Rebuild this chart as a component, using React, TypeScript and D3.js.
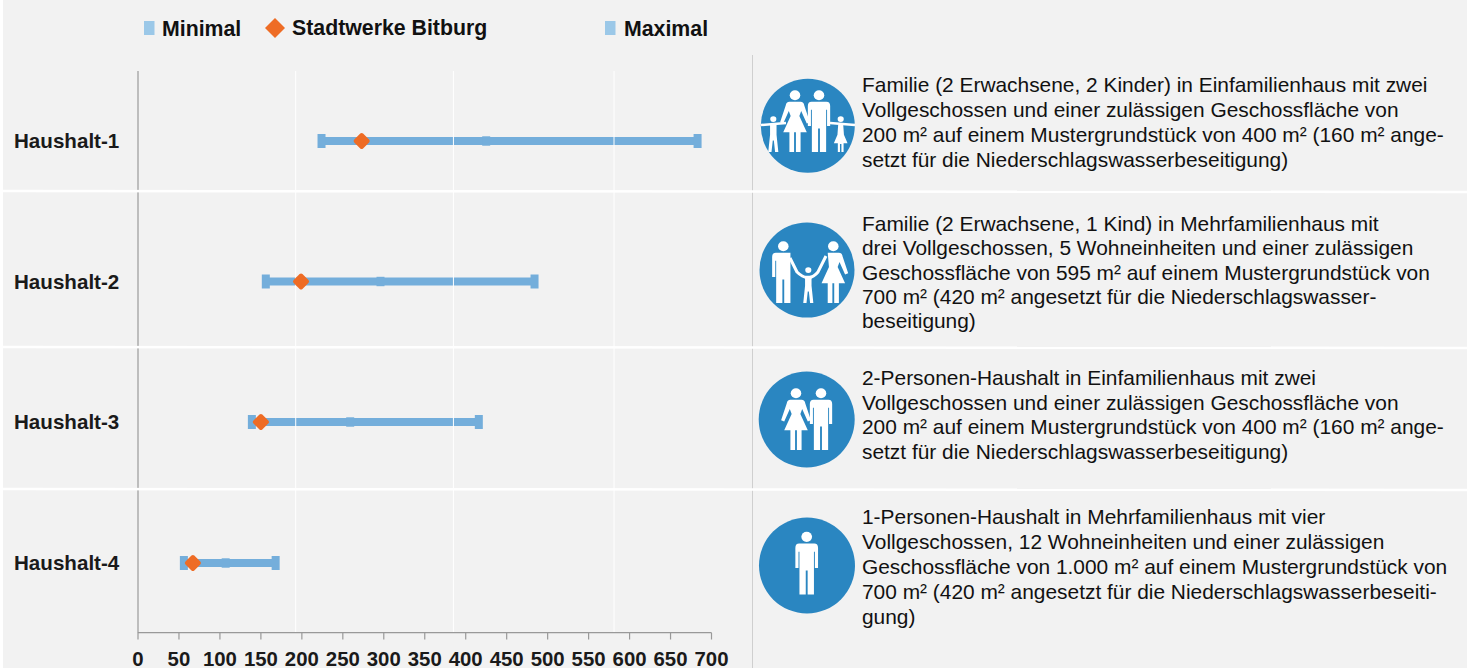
import React from "react";
import * as d3 from "d3";

const categories = ["Haushalt-1", "Haushalt-2", "Haushalt-3", "Haushalt-4"];
const minValues = [224, 156, 139, 56];
const midValues = [425, 296, 259, 107];
const bitburgValues = [273, 199, 150, 67];
const maxValues = [683, 484, 416, 168];
const tickValues = d3.range(0, 701, 50);
const gridValues = [192.5, 385, 581];
const legendItems = ["Minimal", "Stadtwerke Bitburg", "Maximal"];

const descriptions = [
  ["Familie (2 Erwachsene, 2 Kinder) in Einfamilienhaus mit zwei", "Vollgeschossen und einer zulässigen Geschossfläche von", "200 m² auf einem Mustergrundstück von 400 m² (160 m² ange-", "setzt für die Niederschlagswasserbeseitigung)"],
  ["Familie (2 Erwachsene, 1 Kind) in Mehrfamilienhaus mit", "drei Vollgeschossen, 5 Wohneinheiten und einer zulässigen", "Geschossfläche von 595 m² auf einem Mustergrundstück von", "700 m² (420 m² angesetzt für die Niederschlagswasser-", "beseitigung)"],
  ["2-Personen-Haushalt in Einfamilienhaus mit zwei", "Vollgeschossen und einer zulässigen Geschossfläche von", "200 m² auf einem Mustergrundstück von 400 m² (160 m² ange-", "setzt für die Niederschlagswasserbeseitigung)"],
  ["1-Personen-Haushalt in Mehrfamilienhaus mit vier", "Vollgeschossen, 12 Wohneinheiten und einer zulässigen", "Geschossfläche von 1.000 m² auf einem Mustergrundstück von", "700 m² (420 m² angesetzt für die Niederschlagswasserbeseiti-", "gung)"],
];
const descriptionTops = [92, 231, 385, 524];
const descriptionSteps = [25, 24.3, 24.7, 25];

const W = 1467, H = 668;
const x = d3.scaleLinear().domain([0, 700]).range([138, 711.5]);
const y = d3.scaleOrdinal<string, number>().domain(categories).range([141, 281.5, 422, 563]);
const rowLines = [191, 347, 489];
const BG = "#f2f2f2", BAR = "#74aedb", LEG = "#9bc8e8", ORANGE = "#ee6c25", AXIS = "#999999", ICON = "#2a86c1";
const SANS = "'Liberation Sans', Arial, sans-serif";

const diamond = (cx: number, cy: number, rx: number, ry: number) =>
  `M${cx},${cy - ry}L${cx + rx},${cy}L${cx},${cy + ry}L${cx - rx},${cy}Z`;

const MAN = "M-12,19Q-18,19-18,26L-18,58L-13,58L-13,32L-11.5,32L-11.5,100L-1.5,100L-1.5,62L1.5,62L1.5,100L11.5,100L11.5,32L13,32L13,58L18,58L18,26Q18,19 12,19Z";
const MAN_HOLD = "M-12,19Q-18,19-18,26L-18,58L-13,58L-13,32L-11.5,32L-11.5,100L-1.5,100L-1.5,62L1.5,62L1.5,100L11.5,100L11.5,19Z";
const WOMAN = "M-9,19Q-14,19-15,25L-24,52L-19,54L-10,34L-7,42L-19,68L-9,68L-9,100L-1.5,100L-1.5,68L1.5,68L1.5,100L9,100L9,68L19,68L7,42L10,34L19,54L24,52L15,25Q14,19 9,19Z";
const WOMAN_HOLD = "M-9,19L-7,42L-19,68L-9,68L-9,100L-1.5,100L-1.5,68L1.5,68L1.5,100L9,100L9,68L19,68L7,42L10,34L19,54L24,52L15,25Q14,19 9,19Z";
const CHILD = "M-9,24L9,24L9,52L14,100L5,100L1.5,68L-1.5,68L-5,100L-14,100L-9,52Z";
const GIRL = "M-7,24L7,24L9,52L19,76L8,76L8,100L2,100L2,78L-2,78L-2,100L-8,100L-8,76L-19,76L-9,52Z";

function Person({ d, cx, foot, h }: { d: string; cx: number; foot: number; h: number }) {
  return (
    <g transform={`translate(${cx},${foot - h}) scale(${h / 100})`} fill="#fff">
      <ellipse cx={0} cy={8.5} rx={8.5} ry={8} />
      <path d={d} />
    </g>
  );
}

function Icons() {
  return (
    <g>
      <circle cx={807.8} cy={125.8} r={47} fill={ICON} />
      <Person d={WOMAN} cx={795} foot={152} h={62} />
      <Person d={MAN} cx={819} foot={152} h={62} />
      <Person d={CHILD} cx={773.3} foot={152} h={36} />
      <Person d={GIRL} cx={840.7} foot={152} h={36} />
      <path d="M761,125L786,123M830,123L855,125" stroke="#fff" strokeWidth={2.5} fill="none" />

      <circle cx={807} cy={270} r={47.5} fill={ICON} />
      <Person d={MAN_HOLD} cx={783.3} foot={303} h={62} />
      <Person d={WOMAN_HOLD} cx={833.3} foot={303} h={62} />
      <Person d={CHILD} cx={808.3} foot={303} h={36} />
      <path d="M790,258L797,272Q802,277 808,278Q814,277 818,272L826,256" stroke="#fff" strokeWidth={3} fill="none" />

      <circle cx={806.7} cy={419.5} r={48} fill={ICON} />
      <Person d={WOMAN} cx={796} foot={450} h={62} />
      <Person d={MAN} cx={821} foot={450} h={62} />

      <circle cx={807} cy={565.5} r={48} fill={ICON} />
      <Person d={MAN} cx={806.7} foot={594.5} h={63} />
    </g>
  );
}

export default function App() {
  return (
    <svg width={W} height={H} style={{ position: "absolute", left: 0, top: 0, display: "block" }} fontFamily={SANS}>
      <rect width={W} height={H} fill="#fff" />
      <rect x={3} width={W - 3} height={H} fill={BG} />

      <line x1={752.5} x2={752.5} y1={55} y2={H} stroke="#cfcfcf" strokeWidth={1} />

      <line x1={138} x2={138} y1={71} y2={633} stroke={AXIS} strokeWidth={1.2} />
      <line x1={138} x2={711.5} y1={632.7} y2={632.7} stroke={AXIS} strokeWidth={1.2} />
      {tickValues.map((t) => (
        <g key={t}>
          <line x1={x(t)} x2={x(t)} y1={632.7} y2={639.5} stroke={AXIS} strokeWidth={1.2} />
          <text x={x(t)} y={665.5} textAnchor="middle" fontSize={20.4} fontWeight="bold" fill="#1a1a1a">{t}</text>
        </g>
      ))}

      {categories.map((c, i) => {
        const cy = y(c)!;
        return (
          <g key={c}>
            <text x={14} y={cy + 7} fontSize={20.6} fontWeight="bold" fill="#1a1a1a">{c}</text>
            <rect x={x(minValues[i])} width={x(maxValues[i]) - x(minValues[i])} y={cy - 4} height={8} fill={BAR} />
            <rect x={x(minValues[i]) - 4} width={8} y={cy - 7} height={14} fill={BAR} />
            <rect x={x(maxValues[i]) - 4} width={8} y={cy - 7} height={14} fill={BAR} />
            <rect x={x(midValues[i]) - 4} width={8} y={cy - 4.7} height={9.4} fill={BAR} />
          </g>
        );
      })}

      {gridValues.map((g) => (
        <line key={g} x1={x(g)} x2={x(g)} y1={71} y2={632} stroke="#fff" strokeWidth={1} />
      ))}
      {rowLines.map((r) => (
        <line key={r} x1={3} x2={W} y1={r} y2={r + 1} stroke="#fff" strokeWidth={2.5} />
      ))}

      {categories.map((c, i) => (
        <path key={c} d={diamond(x(bitburgValues[i]), y(c)!, 6, 6)} fill={ORANGE} stroke={ORANGE} strokeWidth={4} strokeLinejoin="round" />
      ))}

      <rect x={144} y={21} width={10.5} height={14} fill={LEG} />
      <text x={162} y={36} fontSize={21.3} fontWeight="bold" fill="#111">{legendItems[0]}</text>
      <path d={diamond(275, 28, 10, 10)} fill={ORANGE} />
      <text x={292} y={35} fontSize={21.3} fontWeight="bold" fill="#111">{legendItems[1]}</text>
      <rect x={605} y={21} width={10.5} height={14} fill={LEG} />
      <text x={624} y={36} fontSize={21.3} fontWeight="bold" fill="#111">{legendItems[2]}</text>

      <Icons />

      {descriptions.map((lines, i) => (
        <g key={i}>
          {lines.map((l, j) => (
            <text key={j} x={862} y={descriptionTops[i] + j * descriptionSteps[i]} fontSize={20.9} fill="#111">{l}</text>
          ))}
        </g>
      ))}
    </svg>
  );
}
